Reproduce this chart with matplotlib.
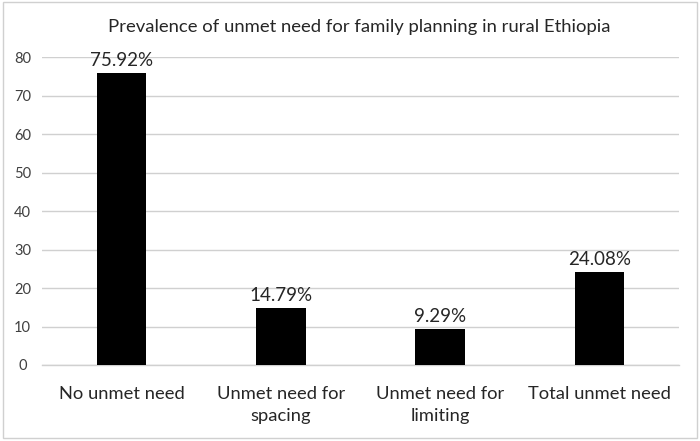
import matplotlib
matplotlib.use("Agg")
import matplotlib.pyplot as plt
from matplotlib.patches import Rectangle

categories = ["No unmet need", "Unmet need for\nspacing", "Unmet need for\nlimiting", "Total unmet need"]
values = [75.92, 14.79, 9.29, 24.08]
labels = ["75.92%", "14.79%", "9.29%", "24.08%"]
yticks = [0, 10, 20, 30, 40, 50, 60, 70, 80]
title = "Prevalence of unmet need for family planning in rural Ethiopia"

plt.rcParams['font.family'] = ['Lato', 'DejaVu Sans']

fig = plt.figure(figsize=(7, 4.41), dpi=100)
fig.patches.append(Rectangle((3/700, 3/441), 694/700, 436/441, transform=fig.transFigure,
                             fill=False, edgecolor='#d0d0d0', linewidth=1.0))
ax = fig.add_axes([42/700, 1-365/441, 637/700, (365-57.3)/441])

x = range(len(categories))
ax.bar(x, values, width=0.31, color='black', zorder=3)
for xi, v, lab in zip(x, values, labels):
    ax.annotate(lab, (xi, v), xytext=(0, 3), textcoords='offset points',
                ha='center', va='bottom', fontsize=13.5, color='#262626')

ax.set_xlim(-0.5, len(categories) - 0.5)
ax.set_ylim(0, 80)
ax.set_yticks(yticks)
ax.set_xticks(list(x))
ax.set_xticklabels(categories, fontsize=13.2, color='#262626', linespacing=1.45)
ax.tick_params(axis='y', labelsize=10.5, colors='#404040', length=0, pad=14)
ax.tick_params(axis='x', length=0, pad=15)
ax.grid(axis='y', color='#d0d0d0', linewidth=1.0, zorder=0)
for s in ['top', 'right', 'left']:
    ax.spines[s].set_visible(False)
ax.spines['bottom'].set_color('#d0d0d0')
ax.spines['bottom'].set_linewidth(1.0)
for t in ax.get_yticklabels():
    t.set_ha('center')

fig.text(359/700, 1-27/441, title, ha='center', va='center', fontsize=13.3, color='#262626')

fig.savefig("out.png", dpi=100)
